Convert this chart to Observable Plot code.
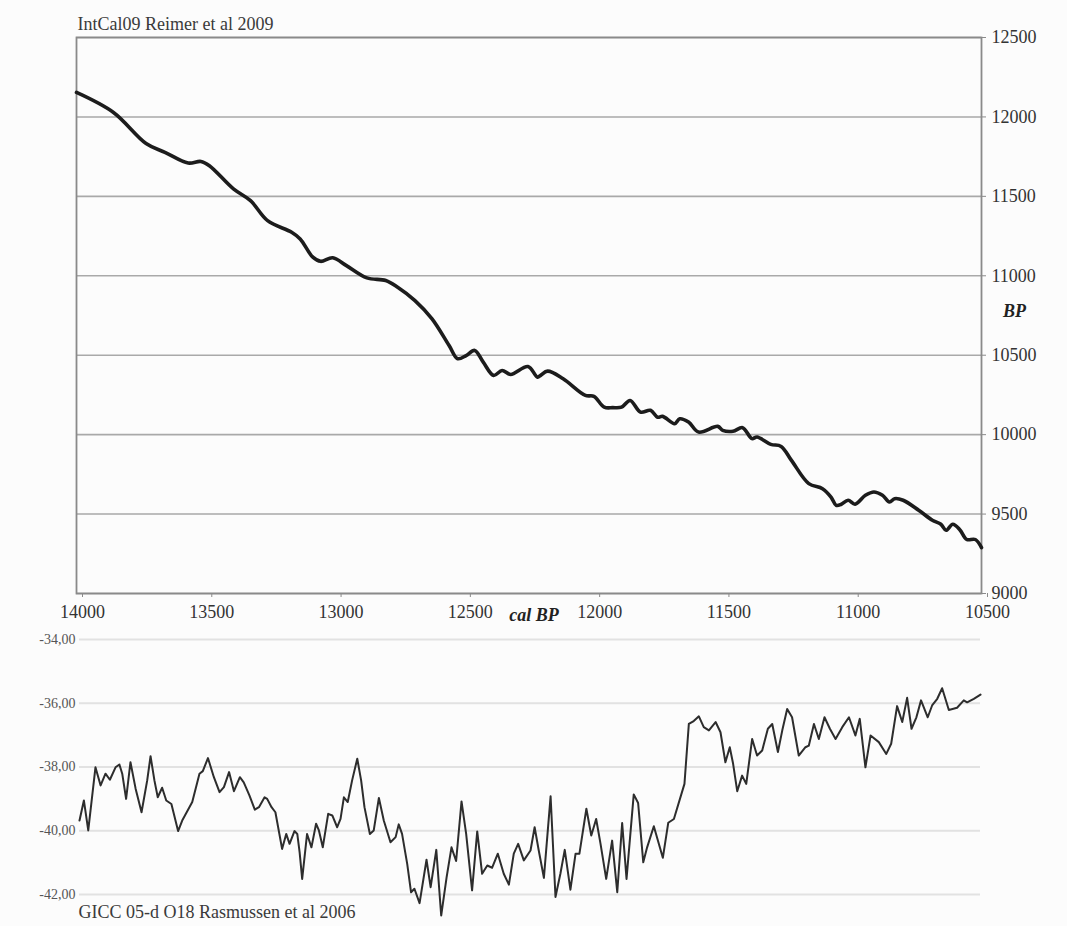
<!DOCTYPE html>
<html>
<head>
<meta charset="utf-8">
<script src="https://cdn.jsdelivr.net/npm/d3@7"></script>
<script src="https://cdn.jsdelivr.net/npm/@observablehq/plot@0.6"></script>
<style>
  html, body { margin: 0; padding: 0; background: #fcfcfc; }
  #chart { width: 1067px; height: 926px; }
  #chart svg { display: block; }
</style>
</head>
<body>
<div id="chart"></div>
<script>
// ---- IntCal09 (Reimer et al 2009): cal BP vs 14C BP ----
const topCal = [14000,13857,13731,13658,13568,13519,13486,13393,13327,13261,13168,13135,13086,13056,13009,12956,12877,12804,12758,12691,12625,12559,12526,12493,12460,12427,12387,12354,12321,12254,12217,12205,12178,12118,12032,11999,11959,11926,11892,11859,11819,11780,11753,11733,11687,11667,11633,11594,11520,11501,11461,11424,11388,11368,11315,11275,11235,11168,11115,11082,11062,11042,11016,10989,10949,10916,10883,10856,10836,10803,10743,10690,10657,10637,10611,10584,10557,10524,10500];
const topBP = [12154,12028,11833,11777,11710,11720,11693,11547,11473,11347,11274,11232,11117,11091,11113,11064,10987,10970,10928,10844,10729,10561,10478,10498,10530,10456,10373,10404,10379,10429,10362,10373,10400,10352,10247,10241,10173,10170,10173,10215,10142,10153,10110,10115,10069,10100,10079,10016,10052,10027,10021,10044,9975,9985,9939,9926,9838,9692,9660,9607,9555,9562,9587,9562,9618,9639,9618,9576,9597,9587,9524,9461,9436,9398,9436,9402,9340,9340,9289];

// ---- GICC05 d18O (Rasmussen et al 2006) ----
const gCal = [14000,13983,13966,13938,13918,13899,13882,13860,13845,13834,13819,13802,13782,13759,13737,13724,13709,13696,13679,13663,13643,13617,13601,13562,13534,13521,13501,13478,13456,13439,13419,13400,13377,13362,13340,13319,13303,13281,13271,13254,13239,13213,13197,13184,13165,13154,13145,13135,13116,13099,13081,13070,13055,13034,13018,12999,
  12986,12973,12958,12941,12921,12906,12893,12872,12857,12837,12818,12792,12772,12760,12747,12727,12712,12699,12679,12652,12636,12614,12595,12574,12555,12537,12516,12498,12475,12455,12436,12416,12397,12375,12352,12332,12313,12296,12274,12248,12232,12216,12196,12170,12151,12132,12115,12093,12073,12058,12031,12012,11993,11976,11954,11931,11911,11892,11875,11847,11830,11810,11795,11769,11734,11713,11691,
  11650,11633,11614,11594,11575,11555,11529,11510,11491,11474,11461,11445,11426,11410,11387,11368,11348,11326,11309,11287,11270,11251,11232,11206,11180,11167,11147,11128,11106,11085,11063,11037,11011,10986,10969,10947,10927,10895,10866,10847,10824,10804,10785,10768,10749,10731,10705,10688,10668,10649,10623,10591,10565,10552,10526,10500];
const gO18 = [-39.68,-39.05,-39.99,-38.01,-38.58,-38.21,-38.40,-38.01,-37.92,-38.21,-39.00,-37.85,-38.68,-39.42,-38.42,-37.66,-38.42,-38.95,-38.65,-39.05,-39.16,-40.01,-39.68,-39.10,-38.21,-38.13,-37.72,-38.32,-38.79,-38.63,-38.16,-38.76,-38.32,-38.48,-38.89,-39.34,-39.26,-38.95,-39.00,-39.26,-39.42,-40.57,-40.10,-40.41,-40.01,-40.10,-40.67,-41.51,-40.10,-40.52,-39.78,-39.99,-40.52,-39.47,-39.52,-39.89,
  -39.63,-38.95,-39.10,-38.42,-37.74,-38.42,-39.26,-40.10,-39.99,-38.97,-39.68,-40.36,-40.20,-39.80,-40.10,-41.04,-41.93,-41.82,-42.27,-40.91,-41.77,-40.60,-42.66,-41.46,-40.52,-40.95,-39.08,-40.10,-41.87,-40.02,-41.35,-41.09,-41.16,-40.72,-41.35,-41.69,-40.72,-40.41,-40.93,-40.62,-39.89,-40.62,-41.48,-38.92,-42.08,-41.35,-40.60,-41.85,-40.72,-40.72,-39.31,-40.15,-39.63,-40.41,-41.51,-40.31,-41.93,-39.76,-41.51,-38.86,-39.13,-40.99,-40.52,-39.86,-40.85,-39.75,-39.63,
  -38.53,-36.65,-36.56,-36.41,-36.75,-36.85,-36.59,-36.91,-37.85,-37.38,-37.90,-38.76,-38.27,-38.53,-37.12,-37.64,-37.48,-36.80,-36.65,-37.53,-36.85,-36.18,-36.44,-37.64,-37.38,-37.33,-36.65,-37.12,-36.44,-36.80,-37.12,-36.75,-36.44,-37.01,-36.49,-38.01,-37.01,-37.22,-37.59,-37.27,-36.09,-36.59,-35.83,-36.80,-36.44,-35.91,-36.44,-36.07,-35.86,-35.53,-36.21,-36.14,-35.91,-35.97,-35.86,-35.73];

// ---- ticks & labels ----
const calTicks = [14000,13500,13000,12500,12000,11500,11000,10500];
const bpTicks = [9000,9500,10000,10500,11000,11500,12000,12500];
const o18Ticks = [-34,-36,-38,-40,-42];
const topTitle = "IntCal09 Reimer et al 2009";
const bottomTitle = "GICC 05-d O18 Rasmussen et al 2006";
const xLabel = "cal BP";
const yLabel = "BP";

const topData = topCal.map((c, i) => ({cal: c, bp: topBP[i]}));
const bottomData = gCal.map((c, i) => ({cal: c, o18: gO18[i]}));

const FONT = "'Liberation Serif', 'Times New Roman', serif";
const TXT = "#333";

const topPlot = Plot.plot({
  width: 1067,
  height: 630,
  marginTop: 37,
  marginBottom: 37,
  marginLeft: 76,
  marginRight: 86,
  style: {fontFamily: FONT, fontSize: "18px", background: "transparent", color: TXT},
  x: {domain: [14000, 10500]},
  y: {domain: [9000, 12500]},
  marks: [
    Plot.gridY(bpTicks, {stroke: "#a9a9a9", strokeOpacity: 1, strokeWidth: 1.6}),
    Plot.frame({stroke: "#8a8a8a", strokeWidth: 1.8}),
    Plot.axisY(bpTicks, {anchor: "right", tickSize: 4, tickPadding: 6, fontSize: 18, label: null,
      stroke: "#8a8a8a", fill: TXT, tickFormat: d => String(d)}),
    Plot.axisX(calTicks, {anchor: "bottom", tickSize: 4, tickPadding: 8, dx: 6, fontSize: 18, label: null,
      stroke: "#8a8a8a", fill: TXT, tickFormat: d => String(d)}),
    Plot.line(topData, {x: "cal", y: "bp", stroke: "#1c1c1c", strokeWidth: 3.6, strokeLinejoin: "round",
      curve: "catmull-rom"}),
    Plot.text([topTitle], {frameAnchor: "top-left", textAnchor: "start", lineAnchor: "middle", dy: -13.5, dx: 1,
      fontSize: 18, fill: "#3a3a3a", text: d => d}),
    Plot.text([yLabel], {frameAnchor: "right", textAnchor: "middle", lineAnchor: "middle", dx: 33, dy: -4,
      fontSize: 18, fontWeight: "bold", fontStyle: "italic", fill: "#222", text: d => d}),
    Plot.text([xLabel], {frameAnchor: "bottom", textAnchor: "middle", lineAnchor: "middle", dx: 5, dy: 22,
      fontSize: 18, fontWeight: "bold", fontStyle: "italic", fill: "#222", text: d => d})
  ]
});

const bottomPlot = Plot.plot({
  width: 1067,
  height: 296,
  marginTop: 9,
  marginBottom: 32,
  marginLeft: 79,
  marginRight: 87,
  style: {fontFamily: FONT, fontSize: "14px", background: "transparent", color: TXT},
  x: {domain: [14000, 10500], axis: null},
  y: {domain: [-42, -34]},
  marks: [
    Plot.ruleY(o18Ticks, {stroke: "#e2e2e2", strokeWidth: 2}),
    Plot.axisY(o18Ticks, {anchor: "left", tickSize: 0, tickPadding: 4, fontSize: 14, label: null,
      fill: "#555", tickFormat: d => d.toFixed(2).replace(".", ",")}),
    Plot.line(bottomData, {x: "cal", y: "o18", stroke: "#2d2d2d", strokeWidth: 2, strokeLinejoin: "round"}),
    Plot.text([bottomTitle], {frameAnchor: "bottom-left", textAnchor: "start", lineAnchor: "middle", dy: 18, dx: -1,
      fontSize: 18, fill: "#3a3a3a", text: d => d})
  ]
});

const chart = document.getElementById("chart");
chart.appendChild(topPlot);
chart.appendChild(bottomPlot);
</script>
</body>
</html>
